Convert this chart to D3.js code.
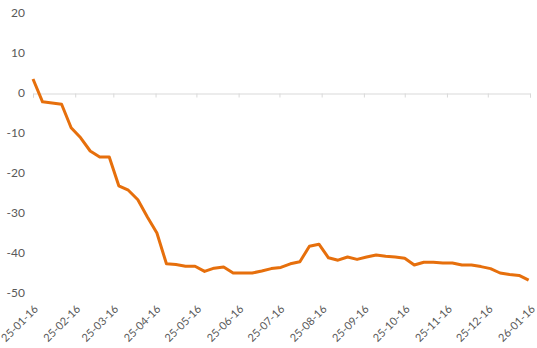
<!DOCTYPE html>
<html>
<head>
<meta charset="utf-8">
<script src="https://cdn.jsdelivr.net/npm/d3@7"></script>
<style>
  body { margin: 0; background: #fff; }
  svg { display: block; font-family: Lato, "Open Sans", sans-serif; }
</style>
</head>
<body>
<svg></svg>
<script>
// weekly values, first point 2025-01-16
const startDate = "2025-01-16"
const values = [
    3.5, -2.2, -2.5, -2.8, -8.7, -11.2, -14.5, -16, -16, -23.2,
    -24.3, -26.7, -31, -35, -42.7, -42.9, -43.3, -43.3, -44.6, -43.8,
    -43.5, -45, -45, -45, -44.5, -43.9, -43.6, -42.7, -42.2, -38.3,
    -37.8, -41.2, -41.8, -41, -41.6, -41, -40.5, -40.8, -41, -41.3,
    -43, -42.3, -42.3, -42.5, -42.5, -43, -43, -43.4, -43.9, -45,
    -45.4, -45.6, -46.8
]
const yTicks = [20, 10, 0, -10, -20, -30, -40, -50]
const xTickLabels = ["25-01-16", "25-02-16", "25-03-16", "25-04-16", "25-05-16", "25-06-16",
    "25-07-16", "25-08-16", "25-09-16", "25-10-16", "25-11-16", "25-12-16", "26-01-16"]

const width = 537
const height = 348
const margin = { top: 13, right: 7, bottom: 55, left: 33 }

const parse = d3.timeParse("%y-%m-%d")
const day0 = d3.timeParse("%Y-%m-%d")(startDate)
const data = values.map((v, i) => ({ date: d3.timeDay.offset(day0, i * 7), value: v }))
const tickDates = xTickLabels.map(parse)

let svg = d3.select("svg")
    .attr("width", width)
    .attr("height", height)

const xScale = d3.scaleTime()
    .domain([tickDates[0], tickDates[tickDates.length - 1]])
    .range([margin.left, width - margin.right])

const yScale = d3.scaleLinear()
    .domain([-50, 20])
    .range([height - margin.bottom, margin.top])

// y labels
svg.append("g")
    .selectAll("text")
    .data(yTicks)
    .enter()
    .append("text")
    .attr("x", 25)
    .attr("y", d => yScale(d))
    .attr("dy", "0.35em")
    .attr("text-anchor", "end")
    .style("font-size", "12px")
    .style("fill", "#595959")
    .text(d => d)

// x axis on the zero line
const xAxis = svg.append("g")
    .attr("transform", "translate(0," + (yScale(0) + 0.5) + ")")
    .call(d3.axisBottom(xScale).tickValues(tickDates).tickSize(4).tickFormat(""))
xAxis.select(".domain").attr("stroke", "#d9d9d9")
xAxis.selectAll(".tick line").attr("stroke", "#d9d9d9")

// x labels at bottom, rotated
svg.append("g")
    .selectAll("text")
    .data(tickDates)
    .enter()
    .append("text")
    .attr("transform", (d) => "translate(" + (xScale(d) + 3) + "," + 307 + ") rotate(-45)")
    .attr("text-anchor", "end")
    .attr("dy", "0.35em")
    .style("font-size", "11px")
    .style("fill", "#595959")
    .text((d, i) => xTickLabels[i])

const line = d3.line()
    .x(d => xScale(d.date))
    .y(d => yScale(d.value))

svg.append("path")
    .datum(data)
    .attr("d", line)
    .attr("fill", "none")
    .attr("stroke", "#e66f0c")
    .attr("stroke-width", 3)
    .attr("stroke-linejoin", "round")
</script>
</body>
</html>
